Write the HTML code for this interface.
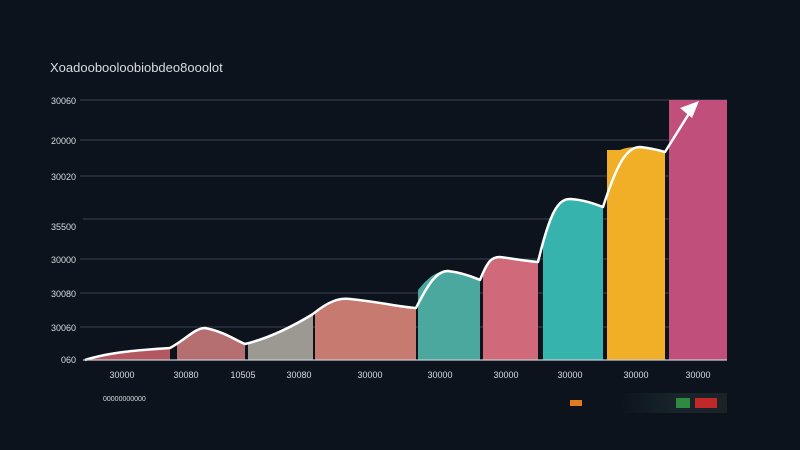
<!DOCTYPE html>
<html><head><style>
body{margin:0;background:#0d131c;width:800px;height:450px;overflow:hidden}
svg{display:block}
text{font-family:"Liberation Sans",sans-serif;fill:#d8dce2}
</style></head><body>
<svg width="800" height="450" viewBox="0 0 800 450">
<defs><linearGradient id="lg" x1="0" x2="1"><stop offset="0" stop-color="#0d131c"/><stop offset="0.5" stop-color="#17242a"/><stop offset="1" stop-color="#1c2228"/></linearGradient></defs>
<rect width="800" height="450" fill="#0d131c"/>
<text x="50" y="72" font-size="13" fill="#e6e8ec">Xoadoobooloobiobdeo8ooolot</text>
<g stroke="#3a4250" stroke-width="1">
<line x1="80" y1="100" x2="727" y2="100"/>
<line x1="80" y1="140" x2="727" y2="140"/>
<line x1="80" y1="176" x2="727" y2="176"/>
<line x1="83" y1="219" x2="727" y2="219"/>
<line x1="80" y1="259" x2="727" y2="259"/>
<line x1="80" y1="293" x2="727" y2="293"/>
<line x1="80" y1="327" x2="727" y2="327"/>
</g>
<g font-size="9" text-anchor="end">
<text x="76" y="104">30060</text><text x="76" y="144">20000</text><text x="76" y="180">30020</text>
<text x="76" y="230">35500</text><text x="76" y="263">30000</text><text x="76" y="297">30080</text>
<text x="76" y="331">30060</text><text x="76" y="363">060</text>
</g>
<path d="M85 360 C110 352,140 350,170 348 L170 360Z" fill="#b35860"/>
<path d="M177 343 C190 335,198 328,205 328 C225 332,235 340,245 344 L245 360 L177 360Z" fill="#b56f70"/>
<path d="M248 344 C270 338,295 325,313 314 L313 360 L248 360Z" fill="#9c9892"/>
<path d="M315 312 C330 300,340 298,350 299 C380 302,400 307,416 308 L416 360 L315 360Z" fill="#c67a70"/>
<path d="M418 290 C430 275,438 271,448 271 C460 273,470 276,480 279 L480 360 L418 360Z" fill="#4aa89f"/>
<path d="M483 270 C488 260,492 257,500 257 C515 259,525 261,538 262 L538 360 L483 360Z" fill="#d06a7a"/>
<path d="M543 240 C550 212,558 199,570 199 C585 200,595 204,603 207 L603 360 L543 360Z" fill="#36b3ad"/>
<path d="M607 150 L620 150 C628 147,635 147,640 147 C650 148,658 150,665 152 L665 360 L607 360Z" fill="#f1af28"/>
<rect x="669" y="100" width="58" height="260" fill="#c04f7c"/>
<path d="M85 360 C110 352,140 350,170 348 C185 340,195 328,205 328 C225 332,235 340,245 344 C270 338,295 325,313 314 C330 300,340 298,350 299 C380 302,400 307,416 308 C430 280,438 271,448 271 C465 273,475 278,480 280 C488 260,492 257,500 257 C515 259,525 261,538 262 C550 212,558 199,570 199 C585 200,595 204,603 207 C615 170,625 147,640 147 C650 148,658 150,665 152 L690 112" fill="none" stroke="#fff" stroke-width="2.5" stroke-linejoin="round"/>
<path d="M699 101 L680 108 L692 118Z" fill="#fff"/>
<line x1="83" y1="360" x2="727" y2="360" stroke="#c8ccd2" stroke-width="1.2"/>
<g font-size="9" text-anchor="middle">
<text x="122" y="378">30000</text><text x="186" y="378">30080</text><text x="243" y="378">10505</text>
<text x="299" y="378">30080</text><text x="370" y="378">30000</text><text x="440" y="378">30000</text>
<text x="506" y="378">30000</text><text x="570" y="378">30000</text><text x="636" y="378">30000</text><text x="698" y="378">30000</text>
</g>
<text x="103" y="401" font-size="7">00000000000</text>
<rect x="570" y="400" width="12" height="6" fill="#e07a20"/>
<rect x="620" y="393" width="107" height="20" fill="url(#lg)"/>
<rect x="676" y="398" width="14" height="10" fill="#2e8a40"/>
<rect x="695" y="398" width="22" height="10" fill="#c0282a"/>
</svg>
</body></html>
